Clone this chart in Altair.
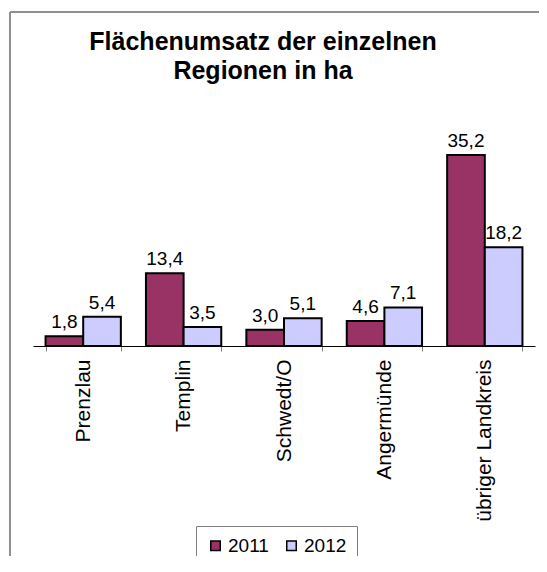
import altair as alt
import pandas as pd

regions = ["Prenzlau", "Templin", "Schwedt/O", "Angermünde", "übriger Landkreis"]
years = ["2011", "2012"]
values_2011 = [1.8, 13.4, 3.0, 4.6, 35.2]
values_2012 = [5.4, 3.5, 5.1, 7.1, 18.2]
colors = ["#993366", "#CCCCFF"]

rows = []
for r, a, b in zip(regions, values_2011, values_2012):
    rows.append({"Region": r, "Jahr": "2011", "Wert": a})
    rows.append({"Region": r, "Jahr": "2012", "Wert": b})
df = pd.DataFrame(rows)
df["Label"] = df["Wert"].map(lambda v: f"{v:.1f}".replace(".", ","))

FONT = "Liberation Sans"

x = alt.X("Region:N", sort=regions, title=None,
          scale=alt.Scale(paddingInner=0.25, paddingOuter=0.125),
          axis=alt.Axis(labelAngle=270, labelFontSize=21, labelColor="black",
                        labelFont=FONT, labelPadding=8, tickBand="extent",
                        tickSize=5, tickColor="#808080", domainColor="#000000",
                        domainWidth=1, labelLimit=300))
xo = alt.XOffset("Jahr:N", sort=years, scale=alt.Scale(paddingInner=0, paddingOuter=0))
y = alt.Y("Wert:Q", scale=alt.Scale(domain=[0, 40], nice=False), axis=None)

base = alt.Chart(df)

bars = base.mark_bar(stroke="black", strokeWidth=2).encode(
    x=x, xOffset=xo, y=y,
    color=alt.Color("Jahr:N", sort=years,
                    scale=alt.Scale(domain=years, range=colors),
                    legend=alt.Legend(title=None, orient="none", direction="horizontal",
                                      legendX=163, legendY=397,
                                      symbolType="square", symbolSize=90,
                                      symbolStrokeColor="black", symbolStrokeWidth=1.5,
                                      labelFontSize=19, labelFont=FONT, labelColor="black",
                                      labelOffset=3, columnPadding=13, padding=10,
                                      strokeColor="#808080", fillColor="white")),
)

labels = base.mark_text(baseline="bottom", dy=-4, fontSize=19, font=FONT, color="black").encode(
    x=x, xOffset=xo, y=y, text="Label:N"
)

frame_top = alt.Chart(df).mark_rule(color="#909090", strokeWidth=2).encode(
    x=alt.value(-23), x2=alt.value(520), y=alt.value(-117)
)
frame_left = alt.Chart(df).mark_rule(color="#909090", strokeWidth=2).encode(
    x=alt.value(-23), y=alt.value(-117), y2=alt.value(430)
)

chart = alt.layer(frame_top, frame_left, bars, labels).properties(
    width=502, height=217,
    autosize=alt.AutoSizeParams(type="none"),
    padding={"left": 25, "top": 121, "right": 4, "bottom": 210},
    title=alt.TitleParams(["Flächenumsatz der einzelnen", "Regionen in ha"],
                          fontSize=25, font=FONT, fontWeight="bold", color="black",
                          anchor="middle", dx=-21, offset=-73, lineHeight=29,
                          baseline="top"),
).configure_view(stroke=None)

chart.save("out.html", embed_options={"renderer": "svg", "actions": False})
